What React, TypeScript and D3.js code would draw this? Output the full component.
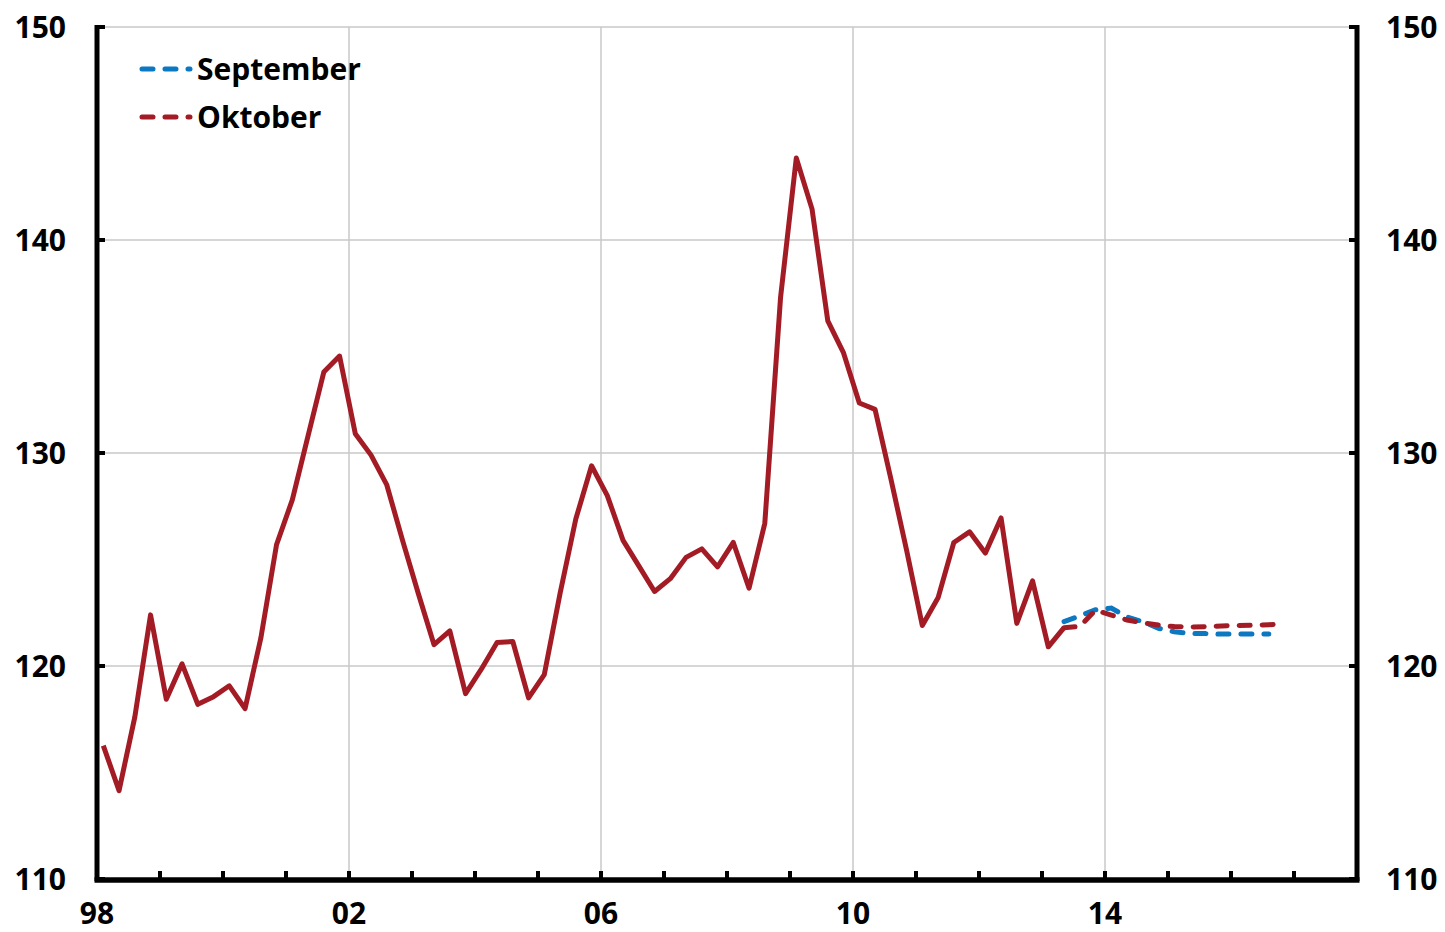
import { useEffect, useRef } from 'react';
import * as d3 from 'd3';

// quarterly index, 1998Q1 .. 2013Q2
const startYear = 1998;
const history = [
  116.26, 114.15, 117.6, 122.4, 118.44, 120.1, 118.2, 118.56,
  119.07, 118.0, 121.3, 125.7, 127.8, 130.8, 133.8, 134.55,
  130.9, 129.9, 128.5, 125.9, 123.4, 121.0, 121.65, 118.7,
  119.85, 121.1, 121.15, 118.5, 119.6, 123.4, 126.9, 129.4,
  128.0, 125.9, 124.7, 123.5, 124.1, 125.1, 125.5, 124.65,
  125.8, 123.65, 126.7, 137.3, 143.85, 141.45, 136.2, 134.7,
  132.35, 132.05, 128.8, 125.45, 121.9, 123.2, 125.8, 126.3,
  125.3, 126.95, 122.0, 124.0, 120.9, 121.8,
];
// forecasts start at the last historical quarter
const forecastStart = history.length - 1;
const september = [
  122.08, 122.35, 122.64, 122.72, 122.3, 122.08, 121.77, 121.61,
  121.53, 121.52, 121.5, 121.5, 121.5, 121.5,
];
const oktober = [
  121.8, 121.86, 122.62, 122.39, 122.16, 122.03, 121.92, 121.85,
  121.83, 121.85, 121.88, 121.9, 121.91, 121.94, 121.96,
];
const yTicks = [110, 120, 130, 140, 150];
const xLabels = [
  { year: 1998, label: '98' },
  { year: 2002, label: '02' },
  { year: 2006, label: '06' },
  { year: 2010, label: '10' },
  { year: 2014, label: '14' },
];
const legendItems = [
  { name: 'September', color: '#0B78C1' },
  { name: 'Oktober', color: '#A31C25' },
];

const RED = '#A31C25';
const BLUE = '#0B78C1';
const FONT = "'Open Sans', 'Noto Sans', sans-serif";

interface Pt {
  t: number;
  v: number;
}

const toPoints = (values: number[], offset: number): Pt[] =>
  values.map((v, i) => ({ t: startYear + (offset + i) * 0.25 + 0.1, v }));

export default function App() {
  const ref = useRef<SVGSVGElement | null>(null);
  const width = 1445;
  const height = 932;

  useEffect(() => {
    if (!ref.current) return;
    const svg = d3.select(ref.current);
    svg.selectAll('*').remove();

    const margin = { top: 27, right: 88, bottom: 53, left: 97 };
    const x = d3.scaleLinear().domain([1998, 2018]).range([margin.left, width - margin.right]);
    const y = d3.scaleLinear().domain([110, 150]).range([height - margin.bottom, margin.top]);

    // grid
    svg.append('g')
      .selectAll('line')
      .data(yTicks.filter(d => d > 110))
      .enter()
      .append('line')
      .attr('x1', x(1998))
      .attr('x2', x(2018))
      .attr('y1', d => y(d))
      .attr('y2', d => y(d))
      .attr('stroke', '#c8c8c8')
      .attr('stroke-width', 1.5);

    svg.append('g')
      .selectAll('line')
      .data(xLabels.filter(d => d.year > 1998))
      .enter()
      .append('line')
      .attr('x1', d => x(d.year))
      .attr('x2', d => x(d.year))
      .attr('y1', y(150))
      .attr('y2', y(110))
      .attr('stroke', '#c8c8c8')
      .attr('stroke-width', 1.5);

    // axes
    const axisG = svg.append('g').attr('stroke', '#000').attr('fill', 'none');
    axisG.append('line')
      .attr('x1', x(1998)).attr('x2', x(1998))
      .attr('y1', y(150) - 2).attr('y2', y(110) + 2)
      .attr('stroke-width', 5);
    axisG.append('line')
      .attr('x1', x(2018)).attr('x2', x(2018))
      .attr('y1', y(150) - 2).attr('y2', y(110) + 2)
      .attr('stroke-width', 5);
    axisG.append('line')
      .attr('x1', x(1998) - 2.5).attr('x2', x(2018) + 2.5)
      .attr('y1', y(110) + 1).attr('y2', y(110) + 1)
      .attr('stroke-width', 5.5);

    yTicks.forEach(v => {
      axisG.append('line')
        .attr('x1', x(1998)).attr('x2', x(1998) + 8)
        .attr('y1', y(v)).attr('y2', y(v))
        .attr('stroke-width', 4);
      axisG.append('line')
        .attr('x1', x(2018) - 8).attr('x2', x(2018))
        .attr('y1', y(v)).attr('y2', y(v))
        .attr('stroke-width', 4);
    });

    d3.range(1999, 2018).forEach(yr => {
      axisG.append('line')
        .attr('x1', x(yr)).attr('x2', x(yr))
        .attr('y1', y(110)).attr('y2', y(110) - 8)
        .attr('stroke-width', 4);
    });

    // labels
    const labelG = svg.append('g')
      .attr('font-family', FONT)
      .attr('font-weight', 700)
      .attr('font-size', 30)
      .attr('fill', '#000');

    yTicks.forEach(v => {
      labelG.append('text')
        .attr('x', 66)
        .attr('y', y(v) + 11)
        .attr('text-anchor', 'end')
        .text(v);
      labelG.append('text')
        .attr('x', 1386)
        .attr('y', y(v) + 11)
        .attr('text-anchor', 'start')
        .text(v);
    });

    xLabels.forEach(d => {
      labelG.append('text')
        .attr('x', x(d.year))
        .attr('y', 924)
        .attr('text-anchor', 'middle')
        .text(d.label);
    });

    // lines
    const line = d3.line<Pt>()
      .x(d => x(d.t))
      .y(d => y(d.v));

    svg.append('path')
      .datum(toPoints(september, forecastStart))
      .attr('fill', 'none')
      .attr('stroke', BLUE)
      .attr('stroke-width', 5)
      .attr('stroke-linecap', 'round')
      .attr('stroke-dasharray', '11 12')
      .attr('d', line);

    svg.append('path')
      .datum(toPoints(oktober, forecastStart))
      .attr('fill', 'none')
      .attr('stroke', RED)
      .attr('stroke-width', 5)
      .attr('stroke-linecap', 'round')
      .attr('stroke-dasharray', '11 12')
      .attr('d', line);

    svg.append('path')
      .datum(toPoints(history, 0))
      .attr('fill', 'none')
      .attr('stroke', RED)
      .attr('stroke-width', 5)
      .attr('stroke-linejoin', 'round')
      .attr('d', line);

    // legend
    legendItems.forEach((item, i) => {
      const ly = 69 + i * 48;
      svg.append('line')
        .attr('x1', 142).attr('x2', 190)
        .attr('y1', ly).attr('y2', ly)
        .attr('stroke', item.color)
        .attr('stroke-width', 5)
        .attr('stroke-linecap', 'round')
        .attr('stroke-dasharray', '11 12');
      svg.append('text')
        .attr('x', 197)
        .attr('y', ly + 11)
        .attr('font-family', FONT)
        .attr('font-weight', 700)
        .attr('font-size', 30)
        .attr('fill', '#000')
        .text(item.name);
    });
  }, []);

  return (
    <div style={{ position: 'absolute', left: 0, top: 0 }}>
      <svg ref={ref} width={width} height={height} style={{ display: 'block', background: '#fff' }} />
    </div>
  );
}
